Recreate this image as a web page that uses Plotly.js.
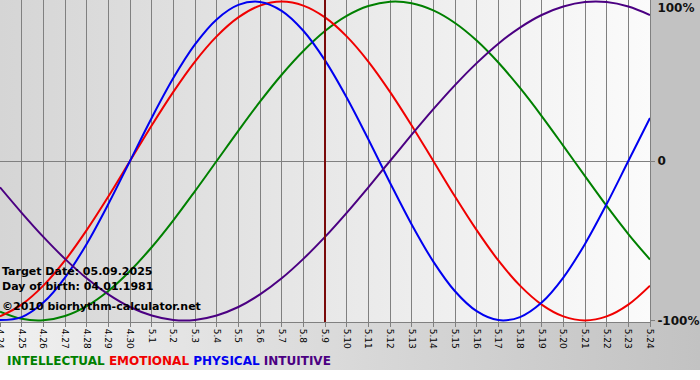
<!DOCTYPE html>
<html>
<head>
<meta charset="utf-8">
<script src="https://cdn.plot.ly/plotly-3.0.1.min.js"></script>
<style>
  html, body { margin: 0; padding: 0; background: #ffffff; }
  #wrap { position: relative; width: 700px; height: 380px; overflow: hidden; background: #ffffff; }
  .bg { position: absolute; }
  #bgPlot { left: 0; top: 0; width: 650px; height: 322px; background: linear-gradient(to right, #d5d5d5, #fbfbfb); }
  #bgRight { left: 650px; top: 0; width: 50px; height: 322px; background: #c2c2c2; }
  #bgBottom { left: 0; top: 322px; width: 700px; height: 48px; background: linear-gradient(to right, #f0f0f0, #c2c2c2); }
  #chart { position: absolute; left: 0; top: 0; width: 700px; height: 380px; }
</style>
</head>
<body>
<div id="wrap">
  <div class="bg" id="bgPlot"></div>
  <div class="bg" id="bgRight"></div>
  <div class="bg" id="bgBottom"></div>
  <div id="chart"></div>
</div>
<script>
// Dates on the x axis (month.day)
const dates = ['4.24','4.25','4.26','4.27','4.28','4.29','4.30','5.1','5.2','5.3','5.4','5.5','5.6','5.7','5.8','5.9','5.10','5.11','5.12','5.13','5.14','5.15','5.16','5.17','5.18','5.19','5.20','5.21','5.22','5.23','5.24'];

// Cycle values (fraction of 100%), one per day
const intellectual = [-0.945,-0.990,-0.999,-0.972,-0.910,-0.815,-0.690,-0.541,-0.372,-0.189,0.000,0.189,0.372,0.541,0.690,0.815,0.910,0.972,0.999,0.990,0.945,0.866,0.756,0.618,0.458,0.282,0.095,-0.095,-0.282,-0.458,-0.618];
const emotional    = [-0.975,-0.901,-0.782,-0.624,-0.434,-0.223,0.000,0.223,0.434,0.624,0.782,0.901,0.975,1.000,0.975,0.901,0.782,0.624,0.434,0.223,0.000,-0.223,-0.434,-0.624,-0.782,-0.901,-0.975,-1.000,-0.975,-0.901,-0.782];
const physical     = [-0.998,-0.979,-0.888,-0.731,-0.520,-0.270,0.000,0.270,0.520,0.731,0.888,0.979,0.998,0.942,0.817,0.631,0.398,0.136,-0.136,-0.398,-0.631,-0.817,-0.942,-0.998,-0.979,-0.888,-0.731,-0.520,-0.270,0.000,0.270];
const intuitive    = [-0.165,-0.325,-0.476,-0.614,-0.736,-0.837,-0.916,-0.969,-0.997,-0.997,-0.969,-0.916,-0.837,-0.736,-0.614,-0.476,-0.325,-0.165,0.000,0.165,0.325,0.476,0.614,0.736,0.837,0.916,0.969,0.997,0.997,0.969,0.916];

const yTickVals = [-1, 0];
const yTickText = ['-100%', '0'];
const yTopTickVals = [1];
const yTopTickText = ['100%'];
const targetDate = '5.9';
const infoLines = ['Target Date: 05.09.2025', 'Day of birth: 04.01.1981', '\u00A92010 biorhythm-calculator.net'];
const seriesNames = ['INTELLECTUAL', 'EMOTIONAL', 'PHYSICAL', 'INTUITIVE'];
const seriesColors = ['#008000', '#f00000', '#0000f0', '#4b0082'];
const seriesData = [intellectual, emotional, physical, intuitive];
const seriesAxes = ['y', 'y', 'y', 'y2'];

const traces = seriesData.map((vals, i) => ({
  type: 'scatter', mode: 'lines', x: dates, y: vals, name: seriesNames[i], yaxis: seriesAxes[i],
  line: { color: seriesColors[i], width: 2, shape: 'spline', smoothing: 1 },
  hoverinfo: 'skip', showlegend: false
}));

const font = 'DejaVu Sans, Verdana, sans-serif';
const legendHtml = seriesNames.map((n, i) => '<span style="color:' + seriesColors[i] + '">' + n + '</span>').join(' ');
const yRange = [-1.01, 1.01];
const yTickFont = { family: font, size: 12, color: '#111111', weight: 'bold' };

const layout = {
  width: 700, height: 380,
  margin: { l: 0, r: 50, t: 0, b: 58, pad: 0 },
  paper_bgcolor: 'rgba(0,0,0,0)', plot_bgcolor: 'rgba(0,0,0,0)',
  showlegend: false,
  xaxis: {
    type: 'category', categoryorder: 'array', categoryarray: dates,
    range: [0, dates.length - 1], fixedrange: true,
    tickmode: 'array', tickvals: dates, ticktext: dates,
    tickangle: 90, tickfont: { family: font, size: 9, color: '#000000' },
    ticks: 'outside', ticklen: 4, tickcolor: '#808080',
    showgrid: true, gridcolor: '#808080', gridwidth: 1,
    showline: true, linecolor: '#808080', linewidth: 1, zeroline: false
  },
  yaxis: {
    side: 'right', range: yRange, fixedrange: true,
    tickmode: 'array', tickvals: yTickVals, ticktext: yTickText,
    tickfont: yTickFont, ticklabeloverflow: 'allow',
    ticks: 'outside', ticklen: 4, tickcolor: '#808080',
    showgrid: false, zeroline: true, zerolinecolor: '#808080', zerolinewidth: 1,
    showline: true, linecolor: '#808080', linewidth: 1
  },
  yaxis2: {
    overlaying: 'y', side: 'right', range: yRange, fixedrange: true,
    tickmode: 'array', tickvals: yTopTickVals, ticktext: yTopTickText,
    tickfont: yTickFont, ticklabeloverflow: 'allow', ticklabelshift: 6,
    ticks: 'outside', ticklen: 4, tickcolor: 'rgba(0,0,0,0)',
    showgrid: false, zeroline: false, showline: false
  },
  shapes: [{
    type: 'line', xref: 'x', yref: 'paper',
    x0: dates.indexOf(targetDate), x1: dates.indexOf(targetDate), y0: 0, y1: 1,
    line: { color: '#7a0a0a', width: 2 }, layer: 'above'
  }],
  annotations: [
    { xref: 'paper', yref: 'paper', x: 0.0, y: 0.157, xanchor: 'left', yanchor: 'middle', showarrow: false,
      text: '<b>' + infoLines[0] + '</b>', font: { family: font, size: 11, color: '#000000' } },
    { xref: 'paper', yref: 'paper', x: 0.0, y: 0.109, xanchor: 'left', yanchor: 'middle', showarrow: false,
      text: '<b>' + infoLines[1] + '</b>', font: { family: font, size: 11, color: '#000000' } },
    { xref: 'paper', yref: 'paper', x: 0.0, y: 0.047, xanchor: 'left', yanchor: 'middle', showarrow: false,
      text: '<b>' + infoLines[2] + '</b>', font: { family: font, size: 11, color: '#000000' } },
    { xref: 'paper', yref: 'paper', x: 0.008, y: -0.121, xanchor: 'left', yanchor: 'middle', showarrow: false,
      text: '<b>' + legendHtml + '</b>', font: { family: font, size: 12, color: '#000000' } }
  ]
};

Plotly.newPlot('chart', traces, layout, { staticPlot: true, displayModeBar: false });
</script>
</body>
</html>
